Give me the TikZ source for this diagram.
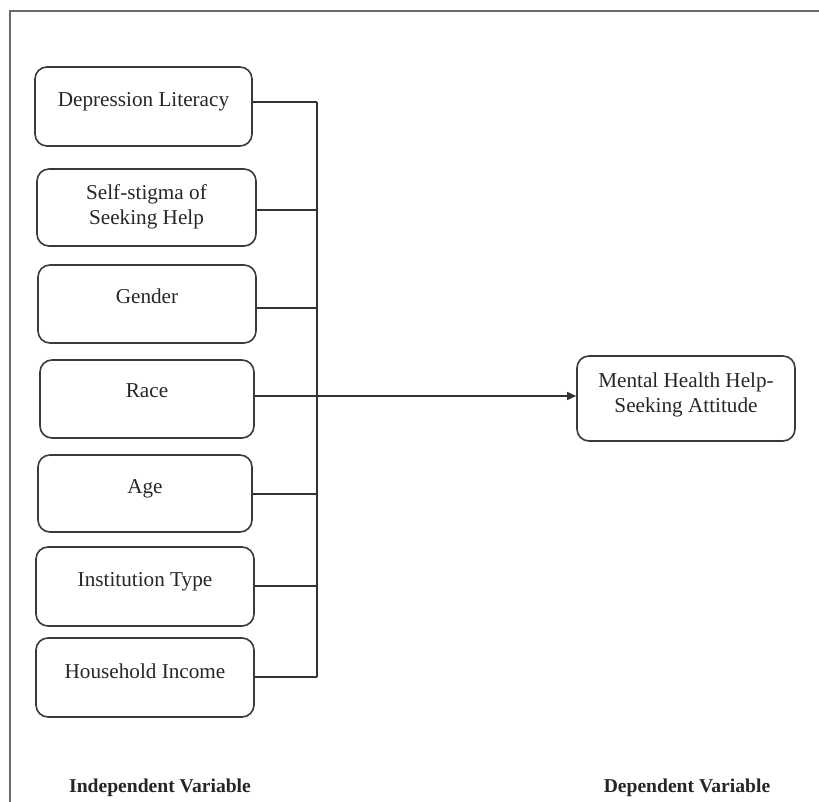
\documentclass[tikz,border=0pt]{standalone}
\usepackage{fontspec}
\setmainfont{Liberation Serif}
\usetikzlibrary{arrows.meta}
\definecolor{boxline}{HTML}{3A3A3A}
\definecolor{frameline}{HTML}{6A6A6A}
\begin{document}
\begin{tikzpicture}[x=0.5pt,y=-0.5pt,
  varbox/.style={draw=boxline,line width=0.8pt,rounded corners=6pt,inner sep=0pt},
  boxtext/.style={anchor=base,align=center,inner sep=0pt,font=\fontsize{10.6}{12.5}\selectfont,text=black!85},
  axislabel/.style={anchor=base,inner sep=0pt,font=\fontsize{9.8}{12}\selectfont\bfseries,text=black!85},
  link/.style={draw=black!80,line width=0.7pt}]
\useasboundingbox (0,0) rectangle (819,802);
% frame (top and left only)
\draw[frameline,line width=0.9pt] (10,802) -- (10,11) -- (819,11);
% boxes
\node[varbox,minimum width=108.5pt,minimum height=39.5pt] (b1) at (143.5,106.5) {};
\node[varbox,minimum width=109.5pt,minimum height=38.5pt] (b2) at (146.5,207.5) {};
\node[varbox,minimum width=109pt,minimum height=39pt] (b3) at (147,304) {};
\node[varbox,minimum width=107pt,minimum height=39pt] (b4) at (147,399) {};
\node[varbox,minimum width=107pt,minimum height=38.5pt] (b5) at (145,493.5) {};
\node[varbox,minimum width=109pt,minimum height=39.5pt] (b6) at (145,586.5) {};
\node[varbox,minimum width=109pt,minimum height=39.5pt] (b7) at (145,677.5) {};
\node[varbox,minimum width=109pt,minimum height=42.5pt] (dv) at (686,398.5) {};
% texts
\node[boxtext] (t1) at (143.5,107) {Depression Literacy};
\node[boxtext] (t2a) at (146.5,200) {Self-stigma of};
\node[boxtext] (t2b) at (146.5,225) {Seeking Help};
\node[boxtext] (t3) at (147,303) {Gender};
\node[boxtext] (t4) at (147,397) {Race};
\node[boxtext] (t5) at (145,493) {Age};
\node[boxtext] (t6) at (145,586) {Institution Type};
\node[boxtext] (t7) at (145,678) {Household Income};
\node[boxtext] (tda) at (686,387) {Mental Health Help-};
\node[boxtext] (tdb) at (686,412) {Seeking Attitude};
\node[axislabel] (il) at (160,792) {Independent Variable};
\node[axislabel] (dl) at (687,792) {Dependent Variable};
% junctions
\coordinate (j1) at (317,102);
\coordinate (j2) at (317,210);
\coordinate (j3) at (317,308);
\coordinate (j4) at (317,396);
\coordinate (j5) at (317,494);
\coordinate (j6) at (317,586);
\coordinate (j7) at (317,677);
\foreach \i in {1,...,7} { \draw[link] (b\i.east |- j\i) -- (j\i); }
\draw[link] (j1) -- (j7);
\draw[link,-{Triangle[length=4.5pt,width=4pt]}] (j4) -- (dv.west |- j4);
\end{tikzpicture}
\end{document}
